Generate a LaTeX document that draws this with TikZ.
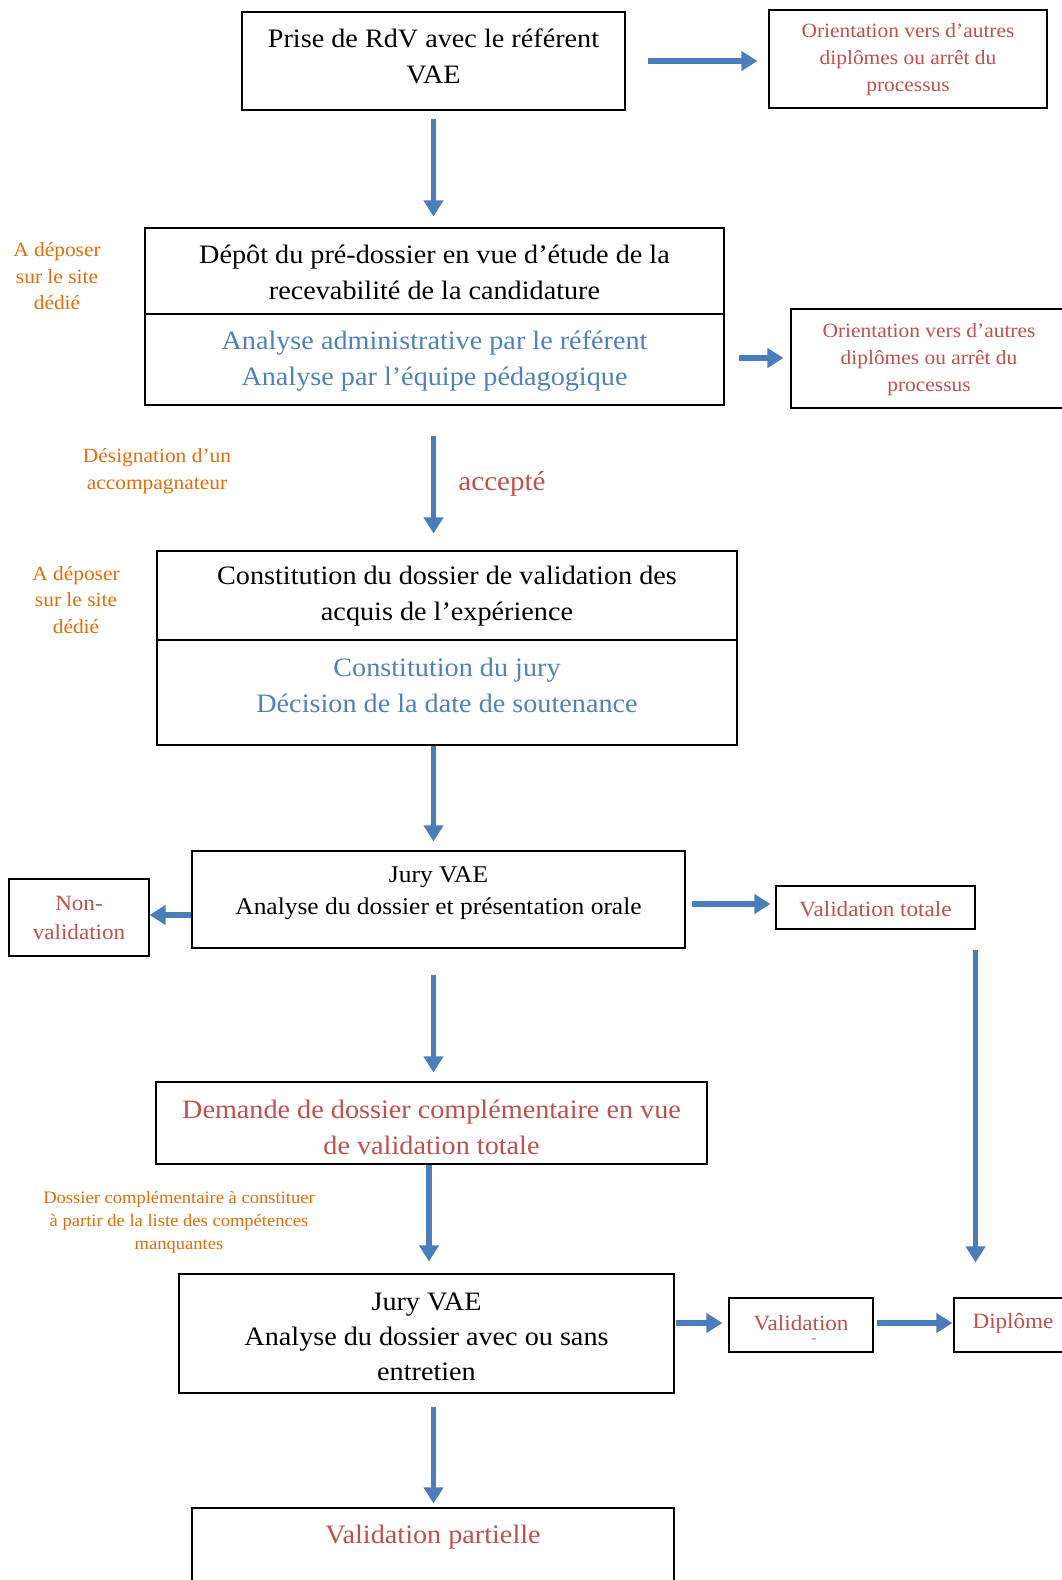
\documentclass[tikz,border=0pt]{standalone}
\usepackage{fontspec}
\setmainfont{Liberation Serif}[FakeStretch=1.06]
\usetikzlibrary{arrows.meta,calc}
\definecolor{arrblue}{RGB}{74,126,187}
\definecolor{txtblue}{RGB}{79,129,189}
\definecolor{txtred}{RGB}{192,80,77}
\definecolor{txtorange}{RGB}{228,108,10}
\begin{document}
\begin{tikzpicture}[x=1pt,y=-1pt,
  box/.style={draw=black,line width=1.1pt,inner sep=0pt,fill=none},
  arr/.style={draw=arrblue,line width=5.5pt,-{Triangle[width=19pt,length=16pt]}},
  big/.style={align=center,font=\fontsize{26.6}{36}\selectfont},
  mid/.style={align=center,font=\fontsize{24}{32}\selectfont},
  small/.style={align=center,text=txtred,font=\fontsize{20.2}{27}\selectfont},
  note/.style={align=center,text=txtorange,font=\fontsize{20.2}{26.5}\selectfont}]
\fill[white] (0,0) rectangle (1062,1580);
\useasboundingbox (0,0) rectangle (1062,1580);

% boxes
\node[box,minimum width=383pt,minimum height=98pt] (b1) at (433.5,61) {};
\node[box,minimum width=278pt,minimum height=98pt] (r1) at (908,59) {};
\node[box,minimum width=579pt,minimum height=86pt] (b2a) at (434.5,271) {};
\node[box,minimum width=579pt,minimum height=91pt] (b2b) at (434.5,359.5) {};
\node[box,minimum width=276pt,minimum height=99pt] (r2) at (929,358.5) {};
\node[box,minimum width=580pt,minimum height=89pt] (b3a) at (447,595.5) {};
\node[box,minimum width=580pt,minimum height=105pt] (b3b) at (447,692.5) {};
\node[box,minimum width=493pt,minimum height=97pt] (b4) at (438.5,899.5) {};
\node[box,minimum width=140pt,minimum height=77pt] (nv) at (79,917.5) {};
\node[box,minimum width=199pt,minimum height=43pt] (vt) at (875.5,907.5) {};
\node[box,minimum width=551pt,minimum height=82pt] (b5) at (431.5,1123) {};
\node[box,minimum width=495pt,minimum height=119pt] (b6) at (426.5,1333.5) {};
\node[box,minimum width=144pt,minimum height=54pt] (val) at (801,1325) {};
\node[box,minimum width=118pt,minimum height=54pt] (dip) at (1013,1325) {};
\node[box,minimum width=482pt,minimum height=110pt] (b7) at (433,1563) {};

% texts
\node[big] (t1) at (433.5,56) {Prise de RdV avec le référent\\VAE};
\node[small] (tr1) at (908,59.5) {Orientation vers d’autres\\diplômes ou arrêt du\\processus};
\node[big] (t2a) at (434.5,272) {Dépôt du pré-dossier en vue d’étude de la\\recevabilité de la candidature};
\node[big,text=txtblue] (t2b) at (434.5,361) {Analyse administrative par le référent\\Analyse par l’équipe pédagogique};
\node[small] (tr2) at (929,359.5) {Orientation vers d’autres\\diplômes ou arrêt du\\processus};
\node[big] (t3a) at (447,596) {Constitution du dossier de validation des\\acquis de l’expérience};
\node[big,text=txtblue] (t3b) at (447,685) {Constitution du jury\\Décision de la date de soutenance};
\node[mid] (t4) at (438.5,893) {Jury VAE\\Analyse du dossier et présentation orale};
\node[small,font=\fontsize{21.8}{29}\selectfont] (tnv) at (79,917.5) {Non-\\validation};
\node[small,font=\fontsize{21.8}{29}\selectfont] (tvt) at (875.5,909) {Validation totale};
\node[big,text=txtred] (t5) at (431.5,1127) {Demande de dossier complémentaire en vue\\de validation totale};
\node[big,font=\fontsize{26.6}{35}\selectfont] (t6) at (426.5,1337) {Jury VAE\\Analyse du dossier avec ou sans\\entretien};
\node[small,font=\fontsize{21.8}{29}\selectfont] (tval) at (801,1323) {Validation};
\node[text=txtred,font=\fontsize{13}{13}\selectfont] (tdash) at (814,1341) {-};
\node[small,font=\fontsize{21.8}{29}\selectfont] (tdip) at (1013,1323) {Diplôme};
\node[big,text=txtred] (t7) at (433,1537) {Validation partielle};

\node[note] (o1) at (57,276.5) {A déposer\\sur le site\\dédié};
\node[note,font=\fontsize{20.2}{27.5}\selectfont] (o2) at (157,471) {Désignation d’un\\accompagnateur};
\node[note] (o3) at (76,600) {A déposer\\sur le site\\dédié};
\node[note,font=\fontsize{17.5}{23}\selectfont] (o4) at (179,1222) {Dossier complémentaire à constituer\\à partir de la liste des compétences\\manquantes};
\node[text=txtred,font=\fontsize{27.4}{30}\selectfont] (acc) at (502,484) {accepté};

% arrows
\draw[arr] ([xshift=22pt]b1.east) -- ([xshift=-11pt]b1.east -| r1.west);
\draw[arr] ([yshift=-8pt]b1.south) -- ([yshift=11pt]b1.south |- b2a.north);
\draw[arr] ([xshift=14pt,yshift=1.5pt]b2b.east) -- ([xshift=-7pt,yshift=1.5pt]b2b.east -| r2.west);
\draw[arr] ([yshift=-30pt]b2b.south -| b1.south) -- ([yshift=17pt]b3a.north -| b1.south);
\draw[arr] (b3b.south -| b1.south) -- ([yshift=9pt]b4.north -| b1.south);
\draw[arr] ([yshift=-15.5pt]b4.west) -- ([yshift=-15.5pt]b4.west -| nv.east);
\draw[arr] ([xshift=6pt,yshift=-4.5pt]b4.east) -- ([xshift=-5pt,yshift=-4.5pt]b4.east -| vt.west);
\draw[arr] ([yshift=-20pt]vt.south east) -- ([yshift=35pt]vt.south east |- dip.north);
\draw[arr] ([yshift=-26pt]b4.south -| b1.south) -- ([yshift=9pt]b5.north -| b1.south);
\draw[arr] ([xshift=-2.5pt]b5.south) -- ([xshift=-2.5pt,yshift=12pt]b5.south |- b6.north);
\draw[arr] ([xshift=1pt,yshift=10.5pt]b6.east) -- ([xshift=-6pt,yshift=10.5pt]b6.east -| val.west);
\draw[arr] ([xshift=3pt,yshift=2pt]val.east) -- ([xshift=-1pt,yshift=2pt]val.east -| dip.west);
\draw[arr] ([yshift=-13pt]b6.south -| b1.south) -- ([yshift=4pt]b7.north -| b1.south);
\end{tikzpicture}
\end{document}
